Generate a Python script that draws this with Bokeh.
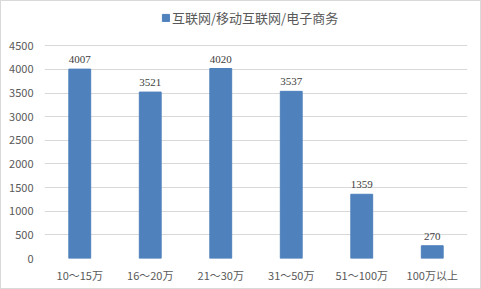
from bokeh.plotting import figure
from bokeh.models import ColumnDataSource, LabelSet, Legend, LegendItem, Range1d, FixedTicker
from bokeh.embed import file_html
from bokeh.resources import INLINE

categories = ["10～15万", "16～20万", "21～30万", "31～50万", "51～100万", "100万以上"]
values = [4007, 3521, 4020, 3537, 1359, 270]
series_name = "互联网/移动互联网/电子商务"
y_ticks = [0, 500, 1000, 1500, 2000, 2500, 3000, 3500, 4000, 4500]

FONT = "Noto Sans CJK SC"
BAR = "#4f81bd"
TXT = "#595959"

src = ColumnDataSource(dict(cat=categories, val=values, lab=[str(v) for v in values]))

p = figure(x_range=categories, width=479, height=287, output_backend="svg",
           toolbar_location=None, min_border_left=43, min_border_right=15,
           min_border_top=4, min_border_bottom=32)
p.styles = {"border": "1px solid #d9d9d9", "box-sizing": "content-box"}
p.y_range = Range1d(0, 4500 * 251 / 211)
r = p.vbar(x="cat", top="val", width=0.31, source=src, color=BAR)

labels = LabelSet(x="cat", y="val", text="lab", source=src, text_align="center",
                  text_baseline="bottom", y_offset=6, text_font=FONT,
                  text_font_size="11px", text_color="#404040")
p.add_layout(labels)

legend = Legend(items=[LegendItem(label=series_name, renderers=[r])],
                orientation="horizontal", location=(117, 231),
                label_text_font=FONT, label_text_font_size="13px",
                label_text_color=TXT, glyph_width=9, glyph_height=9,
                label_standoff=2, border_line_color=None, padding=0,
                margin=0, spacing=0, background_fill_alpha=0)
p.add_layout(legend)

p.yaxis.ticker = FixedTicker(ticks=y_ticks)
for ax in (p.xaxis, p.yaxis):
    ax.axis_line_color = None
    ax.major_tick_line_color = None
    ax.minor_tick_line_color = None
    ax.major_tick_out = 0
    ax.major_tick_in = 0
    ax.major_label_text_font = FONT
    ax.major_label_text_font_size = "11px"
    ax.major_label_text_color = TXT
p.xaxis.major_label_standoff = 8
p.yaxis.major_label_standoff = 11

p.xgrid.grid_line_color = None
p.ygrid.grid_line_color = "#d9d9d9"
p.outline_line_color = None
p.x_range.range_padding = 0

open("out.html", "w").write(file_html(p, INLINE))
